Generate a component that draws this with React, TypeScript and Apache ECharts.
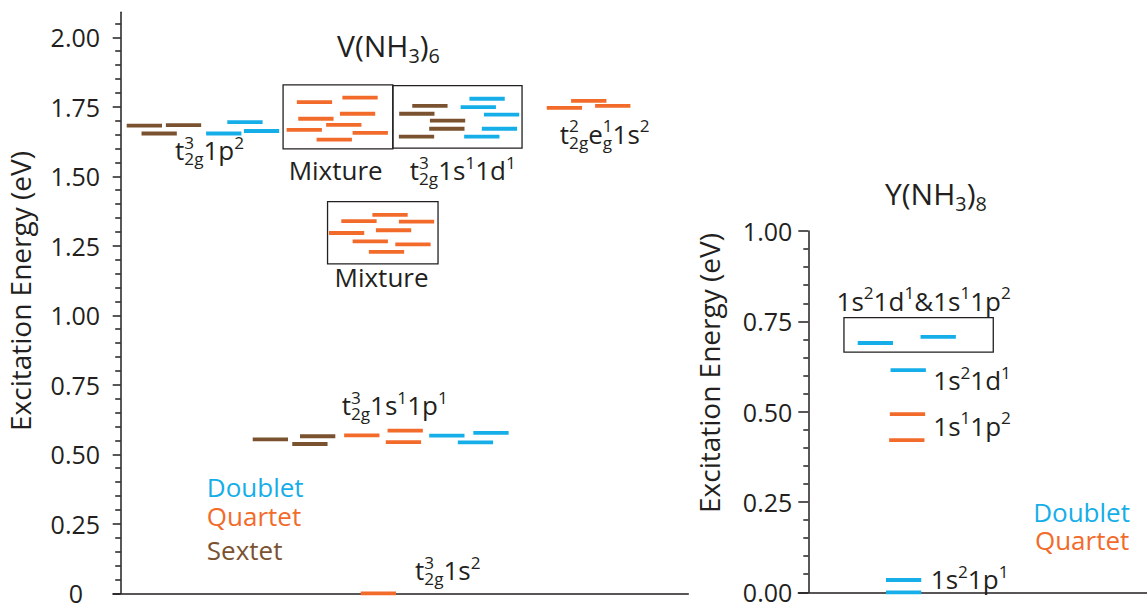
import React, { useEffect, useRef } from 'react';
import * as echarts from 'echarts';

const FONT = 'Open Sans';
const INK = '#231f20';
const BLUE = '#16aee8';
const ORANGE = '#f26b2b';
const BROWN = '#7a5230';

// Each level is drawn one horizontal slot wide.
const LEVEL_W = 1;

// ---------- V(NH3)6 : [slot, excitation energy in eV] ----------
const vSextet1p2 = [[0.17, 1.682], [0.59, 1.654], [1.28, 1.684]];
const vDoublet1p2 = [[2.42, 1.654], [3.02, 1.695], [3.49, 1.663]];
const vQuartetMixA = [
  [4.99, 1.767], [6.28, 1.783], [5.03, 1.707], [6.21, 1.725],
  [5.82, 1.685], [4.7, 1.667], [6.57, 1.656], [5.55, 1.632],
];
const vSextet1s1d = [[8.26, 1.753], [7.89, 1.725], [8.76, 1.7], [8.74, 1.671], [7.88, 1.643]];
const vDoublet1s1d = [[9.88, 1.779], [9.63, 1.749], [10.29, 1.722], [10.23, 1.671], [9.73, 1.643]];
const vQuartetEg = [[12.07, 1.746], [12.76, 1.771], [13.44, 1.753]];
const vQuartetMixB = [
  [7.13, 1.361], [6.25, 1.339], [7.88, 1.337], [7.23, 1.306],
  [5.9, 1.296], [6.57, 1.266], [7.78, 1.255], [7.03, 1.228],
];
const vSextet1s1p = [[3.74, 0.554], [4.86, 0.537], [5.08, 0.565]];
const vQuartet1s1p = [[6.33, 0.568], [7.56, 0.585], [7.51, 0.544]];
const vDoublet1s1p = [[8.74, 0.567], [9.99, 0.577], [9.55, 0.543]];
const vQuartet1s2 = [[6.8, 0]];

// ---------- Y(NH3)8 ----------
const yDoubletMix = [[1.4, 0.69], [3.18, 0.707]];
const yDoublet1d1 = [[2.33, 0.615]];
const yQuartet1p2 = [[2.31, 0.493], [2.29, 0.421]];
const yDoublet1p1 = [[2.2, 0.034], [2.2, 0.0]];

// Framed groups of mixed states: [slot0, E0, slot1, E1]
const vBoxes = [[4.6, 1.599, 7.71, 1.829], [7.71, 1.601, 11.37, 1.826], [5.86, 1.185, 8.99, 1.409]];
const yBoxes = [[1.01, 0.665, 5.24, 0.76]];

// Axis ticks
const vMajorTicks = [0, 0.25, 0.5, 0.75, 1, 1.25, 1.5, 1.75, 2];
const vMinorTicks: number[] = [];
for (let i = 1; i <= 41; i++) if (i % 5 !== 0) vMinorTicks.push(+(i * 0.05).toFixed(2));

// State labels (markup: ^{} superscript, _{} subscript, stacked when adjacent)
const vLabels = [
  { text: 't^{3}_{2g}1p^{2}', at: [1.54, 1.561], size: 26, color: INK, align: 'left' },
  { text: 'Mixture', at: [6.09, 1.487], size: 26, color: INK, align: 'center' },
  { text: 't^{3}_{2g}1s^{1}1d^{1}', at: [8.19, 1.489], size: 26, color: INK, align: 'left' },
  { text: 't^{2}_{2g}e^{1}_{g}1s^{2}', at: [12.44, 1.619], size: 26, color: INK, align: 'left' },
  { text: 'Mixture', at: [7.39, 1.103], size: 26, color: INK, align: 'center' },
  { text: 't^{3}_{2g}1s^{1}1p^{1}', at: [6.26, 0.641], size: 26, color: INK, align: 'left' },
  { text: 't^{3}_{2g}1s^{2}', at: [8.34, 0.048], size: 26, color: INK, align: 'left' },
  { text: 'Doublet', at: [2.44, 0.347], size: 26, color: BLUE, align: 'left' },
  { text: 'Quartet', at: [2.44, 0.242], size: 26, color: ORANGE, align: 'left' },
  { text: 'Sextet', at: [2.44, 0.122], size: 26, color: BROWN, align: 'left' },
];
const yLabels = [
  { text: '1s^{2}1d^{1}&1s^{1}1p^{2}', at: [0.8, 0.781], size: 26, color: INK, align: 'left' },
  { text: '1s^{2}1d^{1}', at: [3.54, 0.56], size: 26, color: INK, align: 'left' },
  { text: '1s^{1}1p^{2}', at: [3.54, 0.435], size: 26, color: INK, align: 'left' },
  { text: '1s^{2}1p^{1}', at: [3.47, 0.011], size: 26, color: INK, align: 'left' },
  { text: 'Doublet', at: [6.37, 0.195], size: 26, color: BLUE, align: 'left' },
  { text: 'Quartet', at: [6.42, 0.117], size: 26, color: ORANGE, align: 'left' },
];

// ---------- text with super/subscripts ----------
const SCRIPT = 0.66;
const SUP_RISE = 0.42;
const SUB_DROP = 0.2;
const MID = 0.37;

let measureCtx: CanvasRenderingContext2D | null = null;
function textWidth(s: string, size: number) {
  if (!measureCtx) measureCtx = document.createElement('canvas').getContext('2d');
  measureCtx!.font = `${size}px "${FONT}"`;
  return measureCtx!.measureText(s).width;
}

type Tok = { k: string; t: string };
function parseMarkup(src: string): Tok[] {
  const toks: Tok[] = [];
  let i = 0;
  const isScript = (j: number) => (src[j] === '^' || src[j] === '_') && src[j + 1] === '{';
  while (i < src.length) {
    if (isScript(i)) {
      const j = src.indexOf('}', i);
      toks.push({ k: src[i], t: src.slice(i + 2, j) });
      i = j + 1;
    } else {
      let j = i;
      while (j < src.length && !isScript(j)) j++;
      toks.push({ k: 'n', t: src.slice(i, j) });
      i = j;
    }
  }
  return toks;
}

function formula(src: string, size: number, color: string) {
  const toks = parseMarkup(src);
  const pieces: any[] = [];
  let x = 0;
  const piece = (text: string, px: number, base: number, s: number) =>
    pieces.push({
      type: 'text',
      x: px,
      y: base - MID * s,
      silent: true,
      style: {
        text, fontSize: s, fontFamily: FONT, fill: color,
        align: 'left', verticalAlign: 'middle', textAlign: 'left', textVerticalAlign: 'middle',
      },
    });
  for (let i = 0; i < toks.length; i++) {
    const t = toks[i];
    if (t.k === 'n') {
      piece(t.t, x, 0, size);
      x += textWidth(t.t, size);
      continue;
    }
    const s = size * SCRIPT;
    let w = 0;
    const place = (tk: Tok) => {
      const base = tk.k === '^' ? -SUP_RISE * size : SUB_DROP * size;
      piece(tk.t, x, base, s);
      w = Math.max(w, textWidth(tk.t, s));
    };
    place(t);
    const nx = toks[i + 1];
    if (nx && nx.k !== 'n' && nx.k !== t.k) {
      place(nx);
      i++;
    }
    x += w;
  }
  return { pieces, width: x };
}

// ---------- series builders ----------
function levelSeries(name: string, data: number[][], color: string, axis: number) {
  return {
    type: 'custom', name, xAxisIndex: axis, yAxisIndex: axis, data, clip: false, z: 5,
    renderItem: (_p: any, api: any) => {
      const a = api.coord([api.value(0), api.value(1)]);
      const b = api.coord([api.value(0) + LEVEL_W, api.value(1)]);
      return {
        type: 'line',
        shape: { x1: a[0], y1: a[1], x2: b[0], y2: b[1] },
        style: { stroke: color, lineWidth: 3.8, lineCap: 'butt' },
      };
    },
  };
}

function boxSeries(data: number[][], axis: number) {
  return {
    type: 'custom', xAxisIndex: axis, yAxisIndex: axis, data, clip: false, z: 4,
    renderItem: (_p: any, api: any) => {
      const tl = api.coord([api.value(0), api.value(3)]);
      const br = api.coord([api.value(2), api.value(1)]);
      return {
        type: 'rect',
        shape: { x: tl[0], y: tl[1], width: br[0] - tl[0], height: br[1] - tl[1] },
        style: { fill: 'none', stroke: INK, lineWidth: 1.3 },
      };
    },
  };
}

function labelSeries(labels: any[], axis: number) {
  return {
    type: 'custom', xAxisIndex: axis, yAxisIndex: axis, clip: false, z: 6, silent: true,
    data: labels.map((l, i) => [l.at[0], l.at[1], i]),
    renderItem: (_p: any, api: any) => {
      const l = labels[api.value(2)];
      const p = api.coord([api.value(0), api.value(1)]);
      const f = formula(l.text, l.size, l.color);
      return {
        type: 'group',
        x: p[0] - (l.align === 'center' ? f.width / 2 : 0),
        y: p[1],
        children: f.pieces,
      };
    },
  };
}

const axisLineStyle = { color: INK, width: 1.5 };
const tickFont = { fontSize: 25, fontFamily: FONT, color: INK };

function hiddenX(grid: number, min: number, max: number, line: boolean) {
  return {
    gridIndex: grid, type: 'value', min, max,
    axisLine: { show: line, onZero: true, lineStyle: axisLineStyle },
    axisTick: { show: false }, axisLabel: { show: false }, splitLine: { show: false },
  };
}

export default function App() {
  const ref = useRef<HTMLDivElement>(null);

  useEffect(() => {
    if (!ref.current) return;
    const chart = echarts.init(ref.current, undefined, { renderer: 'svg' });
    const leftGrid = { left: 113.05, top: 12.28, width: 575.25, height: 581.02, outerBoundsMode: 'none' };
    const title = (src: string, x: number, y: number) => ({
      type: 'group', x, y, silent: true, children: formula(src, 30, INK).pieces,
    });
    const axisTitle = (x: number, y: number) => ({
      type: 'text', x, y, rotation: Math.PI / 2, silent: true,
      style: {
        text: 'Excitation Energy (eV)', fontSize: 28, fontFamily: FONT, fill: INK,
        align: 'center', verticalAlign: 'middle', textAlign: 'center', textVerticalAlign: 'middle',
      },
    });

    chart.setOption({
      animation: false,
      grid: [
        leftGrid,
        { ...leftGrid },
        { left: 798.3, top: 231, width: 348.7, height: 361.3, outerBoundsMode: 'none' },
      ],
      xAxis: [
        hiddenX(0, -0.2167, 16.08, true),
        hiddenX(1, -0.2167, 16.08, false),
        hiddenX(2, -0.2833, 9.595, true),
      ],
      yAxis: [
        {
          gridIndex: 0, type: 'value', min: 0, max: 2.09,
          axisLine: { show: true, onZero: true, lineStyle: axisLineStyle },
          axisTick: { show: true, length: 8, customValues: vMajorTicks, lineStyle: axisLineStyle },
          axisLabel: {
            show: true, customValues: vMajorTicks, margin: 13, ...tickFont,
            formatter: (v: number) => (v === 0 ? '{z|0}' : v.toFixed(2)),
            rich: { z: { ...tickFont, padding: [0, 17, 0, 0] } },
          },
          splitLine: { show: false },
        },
        {
          gridIndex: 1, type: 'value', min: 0, max: 2.09,
          axisLine: { show: true, onZero: true, lineStyle: { ...axisLineStyle, opacity: 0 } },
          axisTick: { show: true, length: 5.5, customValues: vMinorTicks, lineStyle: axisLineStyle },
          axisLabel: { show: false },
          splitLine: { show: false },
        },
        {
          gridIndex: 2, type: 'value', min: 0, max: 1, interval: 0.25,
          axisLine: { show: true, onZero: true, lineStyle: axisLineStyle },
          axisTick: { show: true, length: 10, lineStyle: axisLineStyle },
          minorTick: { show: true, splitNumber: 5, length: 5, lineStyle: axisLineStyle },
          axisLabel: { show: true, margin: 6, ...tickFont, formatter: (v: number) => v.toFixed(2) },
          splitLine: { show: false },
        },
      ],
      series: [
        boxSeries(vBoxes, 0),
        levelSeries('Sextet t2g3 1p2', vSextet1p2, BROWN, 0),
        levelSeries('Doublet t2g3 1p2', vDoublet1p2, BLUE, 0),
        levelSeries('Quartet mixture', vQuartetMixA, ORANGE, 0),
        levelSeries('Sextet t2g3 1s1 1d1', vSextet1s1d, BROWN, 0),
        levelSeries('Doublet t2g3 1s1 1d1', vDoublet1s1d, BLUE, 0),
        levelSeries('Quartet t2g2 eg1 1s2', vQuartetEg, ORANGE, 0),
        levelSeries('Quartet mixture (low)', vQuartetMixB, ORANGE, 0),
        levelSeries('Sextet t2g3 1s1 1p1', vSextet1s1p, BROWN, 0),
        levelSeries('Quartet t2g3 1s1 1p1', vQuartet1s1p, ORANGE, 0),
        levelSeries('Doublet t2g3 1s1 1p1', vDoublet1s1p, BLUE, 0),
        levelSeries('Quartet t2g3 1s2', vQuartet1s2, ORANGE, 0),
        labelSeries(vLabels, 0),
        boxSeries(yBoxes, 2),
        levelSeries('Doublet 1s2 1d1 & 1s1 1p2', yDoubletMix, BLUE, 2),
        levelSeries('Doublet 1s2 1d1', yDoublet1d1, BLUE, 2),
        levelSeries('Quartet 1s1 1p2', yQuartet1p2, ORANGE, 2),
        levelSeries('Doublet 1s2 1p1', yDoublet1p1, BLUE, 2),
        labelSeries(yLabels, 2),
      ],
      graphic: [
        title('V(NH_{3})_{6}', 337, 57),
        title('Y(NH_{3})_{8}', 885, 205),
        axisTitle(20, 291),
        axisTitle(709, 373),
      ],
    });
    return () => chart.dispose();
  }, []);

  return (
    <div
      ref={ref}
      style={{ position: 'absolute', left: 0, top: 0, width: 1147, height: 603, background: '#fff' }}
    />
  );
}
